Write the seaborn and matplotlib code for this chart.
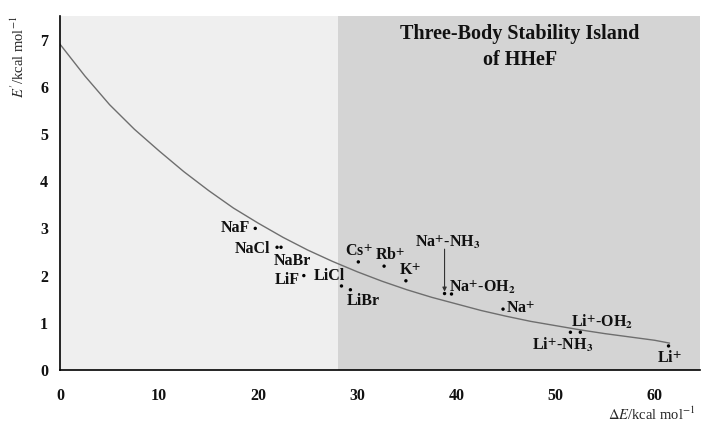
import matplotlib
matplotlib.use("Agg")
import matplotlib.pyplot as plt
import seaborn as sns
import pandas as pd

# ---- data ----
labels = ["NaF", "NaCl", "NaBr", "LiF", "LiCl", "LiBr", "Cs+", "Rb+", "K+",
          "Na+-NH3", "Na+-OH2", "Na+", "Li+-NH3", "Li+-OH2", "Li+"]
dE = [19.7, 21.9, 22.3, 24.6, 28.4, 29.3, 30.1, 32.7, 34.9, 38.8, 39.5, 44.7, 51.5, 52.5, 61.4]
Eb = [3.00, 2.60, 2.60, 2.00, 1.78, 1.70, 2.29, 2.20, 1.89, 1.62, 1.61, 1.29, 0.80, 0.80, 0.51]

curve_x = [0, 2.5, 5, 7.5, 10, 12.5, 15, 17.5, 20, 22.5, 25, 27.5, 30,
           32.5, 35, 37.5, 40, 42.5, 45, 47.5, 50, 52.5, 55, 57.5, 60, 61.5]
curve_y = [6.90, 6.23, 5.62, 5.10, 4.64, 4.20, 3.80, 3.43, 3.11, 2.81, 2.54, 2.30, 2.08,
           1.88, 1.70, 1.54, 1.40, 1.26, 1.14, 1.03, 0.94, 0.85, 0.77, 0.70, 0.63, 0.57]

island_start = 28
title = "Three-Body Stability Island\nof HHeF"

sns.set_theme(style="white")
plt.rcParams["font.family"] = ["Liberation Serif", "DejaVu Serif"]
plt.rcParams["mathtext.fontset"] = "stix"

fig = plt.figure(figsize=(7.02, 4.30), dpi=100)
ax = fig.add_axes([0.0855, 0.1395, 0.912, 0.8235])

ax.set_xlim(0, 64.6)
ax.set_ylim(0, 7.5)
ax.axvspan(0, island_start, color="#efefef", zorder=0, lw=0)
ax.axvspan(island_start, 64.6, color="#d4d4d4", zorder=0, lw=0)

dfc = pd.DataFrame({"x": curve_x, "y": curve_y})
sns.lineplot(data=dfc, x="x", y="y", ax=ax, color="#6e6e6e", lw=1.0, zorder=2)
dfp = pd.DataFrame({"x": dE, "y": Eb, "label": labels})
sns.scatterplot(data=dfp, x="x", y="y", ax=ax, color="black", s=6, edgecolor="none", zorder=3)

tf = dict(fontsize=11.5, fontweight="bold", color="#111111", va="center")
def lab(txt, x, y, ha="left"):
    ax.text(x, y, txt, ha=ha, **tf)

lab("NaF", 19.2, 3.0, "right")
lab("NaCl", 21.2, 2.56, "right")
lab("NaBr", 21.6, 2.31)
lab("LiF", 21.7, 1.91)
lab("LiCl", 25.6, 1.99)
lab("LiBr", 28.9, 1.46)
lab(r"Cs$^{\mathbf{+}}$", 28.8, 2.5)
lab(r"Rb$^{\mathbf{+}}$", 31.8, 2.42)
lab(r"K$^{\mathbf{+}}$", 34.2, 2.10)
lab(r"Na$^{\mathbf{+}}$-NH$_{\mathbf{3}}$", 35.8, 2.71)
lab(r"Na$^{\mathbf{+}}$-OH$_{\mathbf{2}}$", 39.2, 1.76)
lab(r"Na$^{\mathbf{+}}$", 45.0, 1.29)
lab(r"Li$^{\mathbf{+}}$-OH$_{\mathbf{2}}$", 51.6, 1.02)
lab(r"Li$^{\mathbf{+}}$-NH$_{\mathbf{3}}$", 47.6, 0.53)
lab(r"Li$^{\mathbf{+}}$", 60.2, 0.25)

ax.annotate("", xy=(38.8, 1.66), xytext=(38.8, 2.56),
            arrowprops=dict(arrowstyle="-|>", color="#333333", lw=0.8,
                            mutation_scale=6, shrinkA=0, shrinkB=0))

ax.text(46.4, 6.84, title, ha="center", va="center", fontsize=14.5,
        fontweight="bold", color="#111111", linespacing=1.45)

ax.set_xticks([0, 10, 20, 30, 40, 50, 60])
ax.set_yticks(range(0, 8))
ax.tick_params(axis="both", direction="out", length=5, width=1, color="black",
               labelsize=11.5, labelcolor="#111111")
ax.tick_params(axis="x", pad=8)
for t in ax.get_xticklabels() + ax.get_yticklabels():
    t.set_fontweight("bold")

for s in ["top", "right"]:
    ax.spines[s].set_visible(False)
for s in ["left", "bottom"]:
    ax.spines[s].set_color("black")
    ax.spines[s].set_linewidth(1.2)

ax.set_xlabel(r"$\Delta E$/kcal mol$^{-1}$", fontsize=10.5)
ax.set_ylabel(r"$E^{\prime}$/kcal mol$^{-1}$", fontsize=10.5)
ax.xaxis.set_label_coords(0.925, -0.10)
ax.yaxis.set_label_coords(-0.052, 0.885)

fig.savefig("out.png", dpi=100)
